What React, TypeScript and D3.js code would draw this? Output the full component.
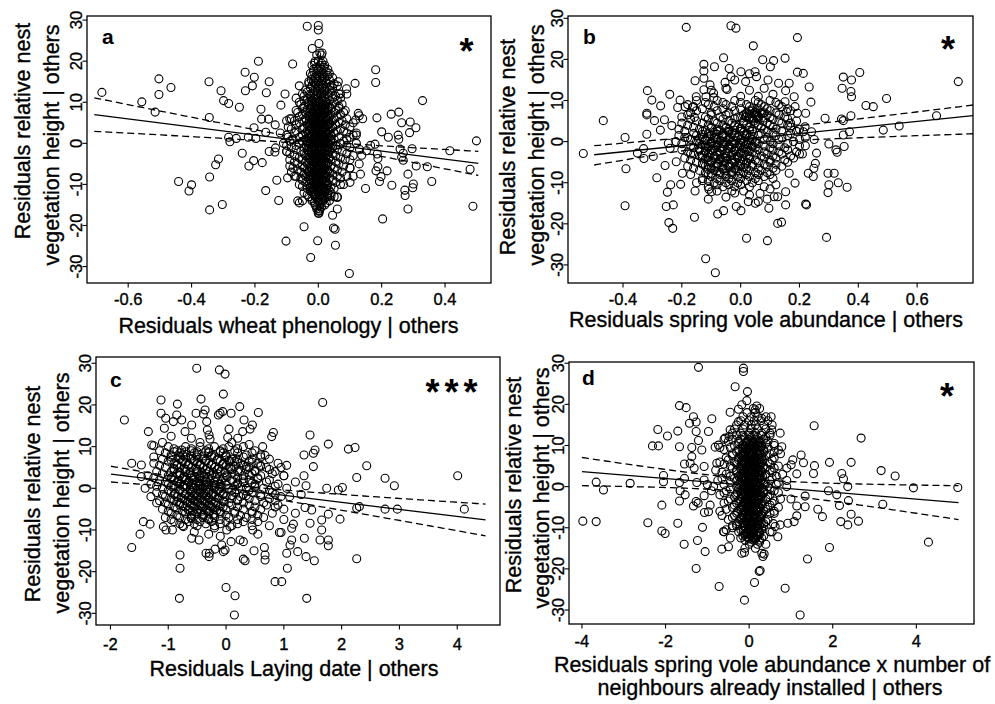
import React from "react";
import * as d3 from "d3";

type Pt = [number, number];
type Row = [number, number[]];

// ---------- Panel a: wheat phenology ----------
const aScatter: Pt[] = [
  [-0.683,12.4],[-0.557,10.1],[-0.515,7.6],[-0.503,15.7],[-0.503,11.9],[-0.465,13.6],[-0.345,15.0],[-0.344,6.3],
  [-0.307,12.8],[-0.299,10.4],[-0.283,9.7],[-0.249,8.8],[-0.231,17.3],[-0.230,12.8],[-0.202,16.1],[-0.208,14.0],
  [-0.189,20.0],[-0.155,15.0],[-0.164,12.3],[-0.181,8.3],[-0.179,5.9],[-0.157,5.9],[-0.136,4.5],[-0.203,3.8],
  [-0.221,1.5],[-0.197,1.2],[-0.166,2.7],[-0.283,1.5],[-0.259,1.2],[-0.279,0.4],[-0.240,-2.4],[-0.155,-2.0],
  [-0.137,-2.1],[-0.135,-1.1],[-0.219,-5.5],[-0.204,-4.2],[-0.177,-4.7],[-0.315,-3.8],[-0.324,-5.2],[-0.343,-8.2],
  [-0.441,-9.3],[-0.400,-10.1],[-0.408,-11.6],[-0.343,-16.2],[-0.303,-14.9],[-0.166,-11.5],[-0.131,-9.0],[-0.125,-13.9],
  [-0.102,-23.8],[-0.081,19.3],[-0.105,12.0],[-0.118,9.3],[-0.097,-8.4],[-0.045,-20.3],[-0.024,-27.8],[-0.002,-23.7],
  [0.054,-24.8],[0.048,-20.6],[0.045,-17.5],[0.053,-20.9],[0.098,-31.7],[-0.035,28.5],[0.0,28.7],[0.0,27.6],
  [-0.019,23.1],[0.002,24.3],[0.063,15.0],[0.089,13.3],[0.116,14.6],[0.181,17.9],[0.181,14.8],[0.126,7.3],
  [0.129,6.7],[0.118,5.7],[0.185,6.2],[0.200,2.8],[0.221,1.5],[0.230,7.1],[0.254,7.6],[0.263,5.0],
  [0.290,5.2],[0.308,3.8],[0.288,2.6],[0.252,2.0],[0.254,1.0],[0.329,10.4],[0.296,-1.3],[0.258,-1.4],
  [0.268,-2.4],[0.263,-3.4],[0.268,-4.1],[0.179,-0.2],[0.186,-2.6],[0.188,-3.7],[0.188,-5.7],[0.182,-6.7],
  [0.152,-1.8],[0.137,-2.9],[0.129,-5.0],[0.133,-7.5],[0.198,-8.1],[0.193,-9.3],[0.217,-6.7],[0.232,-10.2],
  [0.149,-11.0],[0.203,-18.4],[0.283,-7.5],[0.309,-5.5],[0.344,-5.7],[0.358,-9.3],[0.300,-9.9],[0.298,-10.8],
  [0.273,-11.4],[0.274,-12.7],[0.283,-16.0],[0.415,-1.8],[0.499,0.6],[0.479,-6.3],[0.488,-15.3],[0.165,-0.5],
  [-0.06,14],[-0.07,11],[-0.09,6],[-0.1,5.5],[-0.12,2.5],[-0.1,-2],[-0.085,-7],[-0.075,-8],[-0.06,-14.5],
  [-0.05,-14],[0.05,-13],[0.06,-13.2],[0.08,-10],[0.1,-9.5],[0.11,-8],[0.12,2.5],[0.12,2],[0.14,6],[0.11,5],
  [0.09,12],[0.065,12],[0.07,11],[0.1,-4],[0.13,-1.5],[0.1,-6],[0.06,-16],[0.04,-12.8],
];
const aCore: Row[] = [
  [22,[0.005,0.012]],[20,[-0.01,0.0,0.015]],[19,[-0.02,0.005,0.02]],[18,[-0.015,0.0,0.01,0.03]],
  [17,[-0.025,-0.005,0.015,0.035]],[16,[-0.01,0.005,0.02,0.045]],[15,[-0.03,-0.015,0.0,0.01,0.025]],
  [14,[-0.02,0.0,0.015,0.04,0.06]],[13,[-0.04,-0.01,0.005,0.02,0.035]],[12,[-0.05,-0.025,-0.005,0.01,0.03,0.07]],
  [11,[-0.035,-0.015,0.0,0.02,0.045]],[10,[-0.06,-0.03,-0.01,0.005,0.025,0.05]],[9,[-0.045,-0.02,0.0,0.015,0.035,0.065]],
  [8,[-0.07,-0.035,-0.01,0.01,0.03,0.055,0.085]],[7,[-0.05,-0.025,-0.005,0.015,0.04,0.07]],
  [6,[-0.085,-0.04,-0.015,0.005,0.025,0.05,0.09]],[5,[-0.06,-0.03,-0.01,0.01,0.035,0.065]],
  [4,[-0.095,-0.045,-0.02,0.0,0.02,0.045,0.1]],[3,[-0.07,-0.035,-0.01,0.01,0.03,0.06,0.08]],
  [2,[-0.1,-0.05,-0.025,-0.005,0.015,0.04,0.11]],[1,[-0.08,-0.04,-0.015,0.005,0.025,0.05,0.09]],
  [0,[-0.11,-0.06,-0.03,-0.01,0.01,0.03,0.07,0.12]],[-1,[-0.085,-0.045,-0.02,0.0,0.02,0.045,0.1]],
  [-2,[-0.1,-0.055,-0.03,-0.01,0.01,0.035,0.075]],[-3,[-0.075,-0.04,-0.015,0.005,0.025,0.055,0.11]],
  [-4,[-0.09,-0.05,-0.025,-0.005,0.015,0.04,0.085]],[-5,[-0.065,-0.035,-0.01,0.01,0.03,0.065]],
  [-6,[-0.08,-0.045,-0.02,0.0,0.02,0.05,0.1]],[-7,[-0.055,-0.03,-0.01,0.01,0.035,0.075]],
  [-8,[-0.07,-0.04,-0.015,0.005,0.025,0.06,0.09]],[-9,[-0.05,-0.025,-0.005,0.015,0.045]],
  [-10,[-0.06,-0.03,-0.01,0.01,0.03,0.07]],[-11,[-0.035,-0.015,0.005,0.025,0.05]],
  [-12,[-0.045,-0.02,0.0,0.02,0.04]],[-13,[-0.03,-0.01,0.01,0.03,0.06]],[-14,[-0.065,-0.02,0.0,0.015,0.035]],
  [-15,[-0.01,0.005,0.02]],[-16,[-0.005,0.005]],[-17,[0.0,0.002]],
  [21.5,[-0.005,0.01]],[19.5,[-0.012,0.01]],[18.5,[-0.005,0.018]],[17.5,[-0.015,0.005,0.025]],
  [16.5,[-0.02,0.0,0.012,0.03]],[15.5,[-0.022,-0.005,0.015,0.035]],[14.5,[-0.03,-0.01,0.008,0.025,0.05]],
  [13.5,[-0.025,-0.002,0.012,0.028,0.045]],[12.5,[-0.035,-0.015,0.0,0.02,0.04]],
  [11.5,[-0.045,-0.025,-0.008,0.01,0.03,0.055]],[10.5,[-0.045,-0.02,0.0,0.015,0.035,0.06]],
  [9.5,[-0.055,-0.03,-0.01,0.008,0.025,0.045,0.075]],[8.5,[-0.05,-0.022,-0.002,0.02,0.04,0.065]],
  [7.5,[-0.065,-0.04,-0.015,0.005,0.025,0.05,0.08]],[6.5,[-0.06,-0.03,-0.008,0.012,0.035,0.06]],
  [5.5,[-0.075,-0.045,-0.02,0.0,0.02,0.045,0.075]],[4.5,[-0.07,-0.035,-0.012,0.008,0.03,0.055,0.085]],
  [3.5,[-0.085,-0.05,-0.022,-0.002,0.018,0.04,0.07]],[2.5,[-0.075,-0.04,-0.015,0.005,0.025,0.05,0.09]],
  [1.5,[-0.095,-0.06,-0.03,-0.008,0.012,0.035,0.065,0.1]],[0.5,[-0.09,-0.05,-0.02,0.0,0.02,0.04,0.08]],
  [-0.5,[-0.1,-0.07,-0.038,-0.015,0.005,0.025,0.055,0.09]],[-1.5,[-0.07,-0.035,-0.012,0.008,0.03,0.06]],
  [-2.5,[-0.09,-0.045,-0.02,0.0,0.02,0.045,0.09]],[-3.5,[-0.06,-0.03,-0.008,0.012,0.035,0.07]],
  [-4.5,[-0.075,-0.04,-0.015,0.005,0.025,0.055]],[-5.5,[-0.09,-0.05,-0.025,-0.002,0.018,0.04,0.08]],
  [-6.5,[-0.065,-0.035,-0.012,0.008,0.03,0.06]],[-7.5,[-0.045,-0.02,0.0,0.02,0.045]],
  [-8.5,[-0.055,-0.03,-0.008,0.012,0.035,0.07]],[-9.5,[-0.04,-0.015,0.005,0.025,0.055]],
  [-10.5,[-0.05,-0.025,-0.005,0.015,0.04]],[-11.5,[-0.025,-0.005,0.015,0.035]],
  [-12.5,[-0.035,-0.012,0.008,0.03]],[-13.5,[-0.02,0.0,0.02]],[-14.5,[-0.012,0.008,0.025]],
  [-15.5,[-0.005,0.01]],[-16.5,[0.0,0.004]],
];
// darkest column of panel a
const aDense: Row[] = [
  [10.25,[-0.018,0.004,0.022]],[9.75,[-0.01,0.012]],[9.25,[-0.022,0.0,0.02]],[8.75,[-0.012,0.01,0.03]],
  [8.25,[-0.025,-0.004,0.016]],[7.75,[-0.015,0.006,0.026]],[7.25,[-0.02,0.0,0.02]],[6.75,[-0.03,-0.01,0.01,0.03]],
  [6.25,[-0.018,0.004,0.022]],[5.75,[-0.028,-0.008,0.012,0.032]],[5.25,[-0.016,0.004,0.024]],
  [4.75,[-0.025,-0.005,0.015,0.035]],[4.25,[-0.03,-0.012,0.008,0.028]],[3.75,[-0.02,0.0,0.02]],
  [3.25,[-0.028,-0.008,0.012,0.032]],[2.75,[-0.018,0.002,0.022]],[2.25,[-0.03,-0.01,0.01,0.03]],
  [1.75,[-0.02,0.0,0.02,0.04]],[1.25,[-0.032,-0.012,0.008,0.028]],[0.75,[-0.022,-0.002,0.018,0.038]],
  [0.25,[-0.035,-0.015,0.005,0.025]],[-0.25,[-0.025,-0.005,0.015,0.035]],[-0.75,[-0.03,-0.01,0.01,0.03]],
  [-1.25,[-0.02,0.0,0.02,0.04]],[-1.75,[-0.032,-0.012,0.008,0.028]],[-2.25,[-0.022,-0.002,0.018]],
  [-2.75,[-0.03,-0.01,0.01,0.03]],[-3.25,[-0.018,0.002,0.022]],[-3.75,[-0.028,-0.008,0.012,0.032]],
  [-4.25,[-0.02,0.0,0.02]],[-4.75,[-0.03,-0.01,0.01,0.03]],[-5.25,[-0.016,0.004,0.024]],
  [-5.75,[-0.025,-0.005,0.015]],[-6.25,[-0.02,0.0,0.02]],[-6.75,[-0.028,-0.008,0.012,0.03]],
  [-7.25,[-0.016,0.004,0.024]],[-7.75,[-0.025,-0.005,0.015]],[-8.25,[-0.018,0.002,0.022]],
  [-8.75,[-0.026,-0.006,0.014]],[-9.25,[-0.015,0.005,0.025]],[-9.75,[-0.022,-0.002,0.018]],
  [-10.25,[-0.012,0.008,0.026]],[-10.75,[-0.02,0.0,0.018]],[-11.25,[-0.01,0.01]],[-11.75,[-0.016,0.004,0.02]],
  [-12.25,[-0.008,0.012]],[-12.75,[-0.012,0.006]],[-13.25,[-0.004,0.014]],
];

// ---------- Panel b: spring vole abundance ----------
const bScatter: Pt[] = [
  [-0.535,-2.9],[-0.467,5.1],[-0.393,1.0],[-0.390,-6.6],[-0.393,-15.6],[-0.317,12.4],[-0.319,6.9],[-0.319,6.5],
  [-0.319,1.8],[-0.330,-1.7],[-0.329,-4.1],[-0.351,-2.8],[-0.297,-3.6],[-0.302,10.1],[-0.293,5.1],[-0.285,-8.8],
  [-0.273,2.8],[-0.272,8.7],[-0.259,5.3],[-0.257,-5.8],[-0.249,-12.3],[-0.253,-15.8],[-0.241,11.5],[-0.229,-15.4],
  [-0.244,-19.7],[-0.231,-21.1],[-0.238,-10.5],[-0.246,-0.4],[-0.240,-1.6],[-0.234,3.9],[-0.219,-4.9],[-0.206,10.1],
  [-0.214,8.3],[-0.204,-10.4],[-0.198,-7.7],[-0.189,8.5],[-0.185,27.8],[-0.163,8.4],[-0.157,5.9],[-0.155,14.8],
  [-0.151,10.9],[-0.155,-12.0],[-0.157,-18.4],[-0.125,18.8],[-0.125,17.2],[-0.125,15.4],[-0.125,12.6],[-0.118,10.9],
  [-0.104,13.8],[-0.092,11.8],[-0.089,18.2],[-0.091,10.7],[-0.108,-11.6],[-0.099,-12.2],[-0.119,-28.5],[-0.078,-17.6],
  [-0.058,-16.8],[-0.086,-31.9],[-0.058,20.4],[-0.053,14.4],[-0.046,12.7],[-0.039,17.8],[-0.033,15.8],[-0.033,28.2],
  [-0.016,27.6],[0.001,17.0],[0.017,14.6],[0.043,23.3],[0.049,17.0],[0.054,15.8],[0.075,19.9],[0.101,18.2],
  [0.112,19.7],[0.093,15.0],[0.129,14.2],[0.151,20.3],[0.153,12.4],[0.165,14.2],[0.182,10.9],[0.193,25.3],
  [0.193,16.9],[0.213,16.6],[0.233,13.3],[0.239,9.6],[0.287,5.7],[0.300,-0.6],[0.297,-7.7],[0.318,-7.7],
  [0.300,-10.5],[0.297,-12.4],[0.324,-2.0],[0.328,-2.6],[0.332,-10.0],[0.362,-11.1],[0.352,-1.2],[0.349,1.6],
  [0.343,5.5],[0.349,5.1],[0.345,13.0],[0.349,15.7],[0.377,15.0],[0.375,12.2],[0.377,10.9],[0.375,6.3],
  [0.370,2.4],[0.405,16.8],[0.426,8.8],[0.451,8.5],[0.485,2.8],[0.496,10.5],[0.539,3.8],[0.666,6.3],
  [0.740,14.6],[0.020,-23.5],[0.091,-24.1],[0.292,-23.3],[0.126,-19.9],[0.139,-19.6],[0.153,-15.4],[0.153,-12.2],
  [0.096,-16.2],[0.114,-13.4],[0.126,-13.4],[0.001,-16.8],[-0.015,-15.8],[0.060,-14.6],[0.066,-12.6],[0.026,-14.6],
  [0.221,-15.2],[0.224,-15.4],[0.185,-10.1],[0.165,-7.7],[0.230,-7.7],[0.247,-8.5],[0.249,-6.5],[0.254,-5.3],
  [0.258,-2.8],[0.241,2.4],[0.219,3.6],[0.213,2.4],[0.221,6.9],[0.193,6.9],[0.185,8.5],[0.156,7.3],[0.151,9.7],
  [-0.1,12.5],[-0.05,13],[0.0,11],[0.03,12.5],[0.06,11],[0.08,13],[0.11,11.5],[-0.02,15],[0.03,16.5],
  [-0.05,-13.5],[-0.02,-12.5],[0.03,-13],[0.05,-15],[0.09,-14],[-0.13,-9.5],[-0.11,-14],[0.12,-10.5],[0.1,-11.5],
  [-0.17,-3],[-0.18,1],[0.2,-3],[0.22,-1],[0.17,4.5],[0.25,0.5],
  [0.03,7.5],[0.05,6.5],[0.07,7],[0.04,5.5],[0.06,8],[0.02,6],
];
const bCore: Row[] = [
  [10,[-0.15,-0.08,-0.02,0.05,0.1]],[9,[-0.18,-0.11,-0.05,0.02,0.07,0.13]],[8,[-0.13,-0.06,0.0,0.04,0.09,0.16]],
  [7,[-0.17,-0.1,-0.04,0.02,0.05,0.08,0.12]],[6,[-0.2,-0.12,-0.07,-0.01,0.03,0.06,0.1,0.15]],
  [5,[-0.15,-0.09,-0.04,0.01,0.045,0.075,0.13,0.19]],[4,[-0.18,-0.11,-0.06,-0.02,0.02,0.06,0.1,0.16]],
  [3,[-0.21,-0.14,-0.08,-0.04,0.0,0.04,0.08,0.12,0.2]],[2,[-0.16,-0.11,-0.06,-0.02,0.02,0.07,0.11,0.17]],
  [1,[-0.19,-0.13,-0.09,-0.05,-0.01,0.03,0.09,0.14,0.22]],[0,[-0.22,-0.15,-0.1,-0.06,-0.03,0.01,0.05,0.1,0.18]],
  [-1,[-0.17,-0.12,-0.08,-0.04,0.0,0.04,0.08,0.13,0.2]],[-2,[-0.2,-0.14,-0.1,-0.06,-0.02,0.02,0.06,0.11,0.16]],
  [-3,[-0.16,-0.11,-0.07,-0.03,0.01,0.05,0.09,0.14,0.21]],[-4,[-0.19,-0.13,-0.09,-0.05,-0.01,0.03,0.08,0.12,0.18]],
  [-5,[-0.15,-0.1,-0.06,-0.02,0.02,0.06,0.1,0.16]],[-6,[-0.18,-0.12,-0.08,-0.04,0.0,0.04,0.09,0.14]],
  [-7,[-0.14,-0.09,-0.05,-0.01,0.03,0.07,0.12]],[-8,[-0.17,-0.11,-0.07,-0.03,0.02,0.06,0.1]],
  [-9,[-0.13,-0.08,-0.04,0.0,0.05,0.11]],[-10,[-0.15,-0.09,-0.05,-0.01,0.04]],
  [-11,[-0.11,-0.06,-0.02,0.03,0.08]],[-12,[-0.08,-0.03,0.01]],
  [9.5,[-0.12,-0.06,0.0,0.06,0.12]],[8.5,[-0.16,-0.09,-0.03,0.03,0.08,0.14]],[7.5,[-0.15,-0.08,-0.02,0.04,0.1,0.17]],
  [6.5,[-0.18,-0.1,-0.05,0.01,0.05,0.09,0.13]],[5.5,[-0.17,-0.11,-0.06,-0.02,0.03,0.06,0.11,0.16]],
  [4.5,[-0.2,-0.13,-0.08,-0.03,0.01,0.05,0.09,0.14]],[3.5,[-0.16,-0.1,-0.05,-0.01,0.03,0.07,0.11,0.17]],
  [2.5,[-0.19,-0.13,-0.08,-0.04,0.0,0.04,0.09,0.14,0.19]],[1.5,[-0.21,-0.15,-0.1,-0.06,-0.02,0.02,0.06,0.12,0.16]],
  [0.5,[-0.17,-0.12,-0.08,-0.04,0.0,0.04,0.08,0.13,0.2]],[-0.5,[-0.2,-0.14,-0.1,-0.06,-0.02,0.02,0.06,0.11,0.16]],
  [-1.5,[-0.16,-0.11,-0.07,-0.03,0.01,0.05,0.1,0.15]],[-2.5,[-0.18,-0.12,-0.08,-0.04,0.0,0.04,0.08,0.13,0.19]],
  [-3.5,[-0.14,-0.09,-0.05,-0.01,0.03,0.07,0.11,0.17]],[-4.5,[-0.17,-0.11,-0.07,-0.03,0.01,0.05,0.1,0.15]],
  [-5.5,[-0.13,-0.08,-0.04,0.0,0.04,0.08,0.12]],[-6.5,[-0.16,-0.1,-0.06,-0.02,0.02,0.06,0.11]],
  [-7.5,[-0.12,-0.07,-0.03,0.01,0.05,0.09]],[-8.5,[-0.1,-0.05,-0.01,0.03,0.08]],
  [-9.5,[-0.11,-0.07,-0.03,0.02,0.06]],[-10.5,[-0.08,-0.04,0.0]],
];
const bDense: Row[] = [
  [3.25,[-0.1,-0.05,0.0]],[2.75,[-0.12,-0.07,-0.02,0.03]],[2.25,[-0.09,-0.04,0.01]],[1.75,[-0.13,-0.08,-0.03,0.02]],
  [1.25,[-0.11,-0.06,-0.01,0.04]],[0.75,[-0.14,-0.09,-0.04,0.01]],[0.25,[-0.12,-0.07,-0.02,0.03]],
  [-0.25,[-0.1,-0.05,0.0,0.05]],[-0.75,[-0.13,-0.08,-0.03,0.02]],[-1.25,[-0.11,-0.06,-0.01,0.04]],
  [-1.75,[-0.14,-0.09,-0.04,0.01]],[-2.25,[-0.12,-0.07,-0.02,0.03]],[-2.75,[-0.1,-0.05,0.0]],
  [-3.25,[-0.13,-0.08,-0.03,0.02]],[-3.75,[-0.11,-0.06,-0.01]],[-4.25,[-0.12,-0.07,-0.02,0.03]],
  [-4.75,[-0.1,-0.05,0.0]],[-5.25,[-0.13,-0.08,-0.03,0.02]],[-5.75,[-0.11,-0.06,-0.01]],
  [-6.25,[-0.09,-0.04,0.01]],[-6.75,[-0.11,-0.06,-0.02]],[-7.25,[-0.08,-0.03]],[-7.75,[-0.1,-0.05,0.0]],
  [6.25,[0.02,0.06]],[5.75,[0.0,0.04,0.08]],[6.75,[0.03,0.07]],[7.25,[0.05]],
];

// ---------- Panel c: laying date ----------
const cScatter: Pt[] = [
  [-1.759,16.4],[-1.632,6.0],[-1.632,-14.2],[-1.488,-11.0],[-1.430,-8.0],[-1.315,-8.6],[-1.344,13.6],[-1.465,5.6],
  [-1.465,2.8],[-1.286,10.4],[-1.25,10.2],[-1.125,21.2],[-1.125,18.0],[-1.044,16.8],[-1.067,14.4],[-0.911,16.0],
  [-0.842,20.2],[-0.853,17.6],[-0.767,16.4],[-0.709,13.6],[-0.767,9.2],[-0.594,15.2],[-0.507,28.8],[-0.433,21.4],
  [-0.519,18.0],[-0.392,17.8],[-0.363,18.8],[-0.334,16.0],[-0.323,14.0],[-0.294,12.8],[-0.277,11.8],[-0.115,28.4],
  [-0.017,27.4],[-0.046,22.6],[-0.133,17.6],[-0.104,18.0],[-0.058,18.4],[0.087,18.0],[0.052,14.2],[0.029,12.2],
  [0.237,19.6],[0.311,16.4],[0.288,13.6],[0.456,15.2],[0.415,14.2],[0.559,18.2],[0.202,12.0],[0.634,10.0],
  [0.675,7.9],[0.819,13.4],[0.790,12.4],[1.453,12.8],[1.672,20.6],[1.770,10.6],[2.117,9.4],[2.232,9.8],
  [2.434,5.4],[2.261,2.6],[2.751,2.4],[2.912,0.6],[1.943,-0.4],[2.013,0.2],[1.742,0.0],[1.972,-7.4],
  [2.261,-4.8],[2.307,-4.4],[2.751,-5.0],[2.964,-5.0],[4.008,3.0],[4.123,-5.0],[2.261,-16.9],[1.770,-6.2],
  [1.655,-7.6],[1.655,-10.0],[1.626,-12.4],[1.770,-12.4],[1.770,-13.8],[1.528,-17.4],[1.384,-16.4],[1.355,-12.0],
  [1.396,-26.4],[1.453,-8.4],[1.482,-5.2],[1.367,-4.6],[1.511,8.4],[1.540,9.2],[1.511,5.2],[1.349,8.0],
  [1.349,3.0],[1.384,0.6],[1.240,-15.2],[1.165,-8.6],[1.136,-9.6],[1.061,-19.2],[1.050,-15.6],[1.107,-13.6],
  [1.136,-12.4],[0.952,-10.6],[0.923,-10.6],[0.963,-22.4],[0.848,-22.4],[0.663,-14.2],[0.675,-17.2],[0.675,-16.0],
  [0.484,-15.0],[0.461,-10.0],[0.300,-17.0],[0.329,-17.4],[0.156,-25.8],[0.144,-30.4],[0.0,-23.8],[-0.017,-14.8],
  [-0.046,-15.2],[-0.190,-14.6],[-0.288,-15.6],[-0.346,-15.6],[-0.294,-16.4],[-0.796,-16.0],[-0.796,-19.2],[-0.807,-26.4],
  [-0.467,-12.4],[-0.594,-12.0],[-0.738,-9.2],[-1.084,-9.2],[-1.038,-10.0],[-0.928,-10.0],[0.300,-12.8],[0.242,-12.4],
  [0.087,-12.8],[-0.075,-13.6],[0.012,-10.0],[0.069,-9.2],
  [-1.3,-2],[-1.4,0],[-1.2,-3.5],[-1.25,7.5],[-1.1,11],[-0.95,12.5],[-0.6,12],[-0.45,11],[0.1,11],[0.4,10.5],
  [0.9,6],[1.0,3],[1.2,1.5],[1.1,-2],[1.3,-1.5],[0.9,-4],[1.2,-6],[1.0,-7.5],[0.75,-9],[0.55,-11],[-0.3,-11],
  [-0.1,-11.5],[-0.55,-10.5],[0.2,7],[0.05,6.5],[-0.2,-9.5],[1.05,5.5],[0.85,-1.5],
];
const cCore: Row[] = [
  [10,[-1.0,-0.7,-0.45,-0.2,0.05,0.3]],[9,[-1.15,-0.85,-0.6,-0.35,-0.1,0.15,0.5]],
  [8,[-0.95,-0.75,-0.5,-0.25,0.0,0.35,0.6]],[7,[-1.1,-0.8,-0.6,-0.4,-0.15,0.1,0.45,0.75]],
  [6,[-1.25,-0.9,-0.7,-0.5,-0.3,-0.05,0.25,0.55]],[5,[-1.05,-0.8,-0.6,-0.4,-0.2,0.05,0.4,0.7,0.95]],
  [4,[-1.2,-0.95,-0.7,-0.5,-0.3,-0.1,0.2,0.5,0.85]],[3,[-1.35,-1.0,-0.8,-0.6,-0.45,-0.25,0.0,0.3,0.6,1.0]],
  [2,[-1.15,-0.9,-0.7,-0.55,-0.35,-0.15,0.1,0.4,0.75]],[1,[-1.3,-1.0,-0.8,-0.6,-0.45,-0.3,-0.1,0.2,0.5,0.9]],
  [0,[-1.1,-0.9,-0.7,-0.55,-0.4,-0.2,0.05,0.35,0.65,1.05]],[-1,[-1.2,-0.95,-0.75,-0.6,-0.45,-0.3,-0.1,0.15,0.45,0.8]],
  [-2,[-1.05,-0.85,-0.65,-0.5,-0.35,-0.2,0.0,0.25,0.6,0.95]],[-3,[-1.15,-0.9,-0.7,-0.55,-0.4,-0.25,-0.05,0.2,0.5,0.85]],
  [-4,[-1.0,-0.8,-0.6,-0.45,-0.3,-0.15,0.1,0.4,0.7]],[-5,[-1.1,-0.85,-0.65,-0.5,-0.35,-0.2,0.0,0.3,0.6,1.0]],
  [-6,[-0.95,-0.7,-0.5,-0.3,-0.1,0.15,0.45,0.8]],[-7,[-1.05,-0.8,-0.6,-0.4,-0.2,0.05,0.35,0.65]],
  [-8,[-0.9,-0.65,-0.45,-0.25,0.0,0.3,0.55]],[-9,[-0.75,-0.5,-0.2,0.1,0.45]],
  [9.5,[-0.9,-0.6,-0.3,-0.05,0.2]],[8.5,[-1.05,-0.8,-0.55,-0.3,-0.05,0.2,0.45]],
  [7.5,[-0.95,-0.7,-0.5,-0.25,0.0,0.3,0.6]],[6.5,[-1.0,-0.75,-0.55,-0.35,-0.1,0.15,0.4]],
  [5.5,[-1.15,-0.85,-0.65,-0.45,-0.25,0.0,0.3,0.6]],[4.5,[-0.9,-0.7,-0.5,-0.35,-0.15,0.1,0.35,0.75]],
  [3.5,[-1.1,-0.85,-0.65,-0.5,-0.35,-0.15,0.1,0.45,0.8]],[2.5,[-1.25,-0.95,-0.75,-0.6,-0.45,-0.3,-0.05,0.2,0.55]],
  [1.5,[-1.05,-0.85,-0.65,-0.5,-0.35,-0.2,0.0,0.3,0.7]],[0.5,[-1.2,-0.95,-0.75,-0.6,-0.45,-0.3,-0.1,0.15,0.5,0.85]],
  [-0.5,[-1.0,-0.8,-0.62,-0.48,-0.35,-0.15,0.1,0.4,0.75]],[-1.5,[-1.1,-0.9,-0.7,-0.55,-0.4,-0.25,-0.05,0.3,0.6]],
  [-2.5,[-0.95,-0.75,-0.6,-0.45,-0.3,-0.12,0.1,0.4,0.75]],[-3.5,[-1.05,-0.8,-0.62,-0.48,-0.33,-0.18,0.05,0.3,0.65]],
  [-4.5,[-0.9,-0.7,-0.55,-0.4,-0.25,-0.05,0.2,0.5,0.85]],[-5.5,[-1.0,-0.75,-0.58,-0.42,-0.28,-0.1,0.15,0.45]],
  [-6.5,[-0.85,-0.6,-0.4,-0.2,0.0,0.25,0.55]],[-7.5,[-0.95,-0.7,-0.5,-0.3,-0.1,0.2,0.45]],
  [-8.5,[-0.8,-0.55,-0.35,-0.1,0.2]],
];
const cDense: Row[] = [
  [8.75,[-0.9,-0.7,-0.5,-0.3,-0.1]],[7.75,[-0.8,-0.6,-0.4,-0.2,0.0]],[6.75,[-0.95,-0.75,-0.55,-0.35,-0.15,0.05]],
  [5.75,[-0.85,-0.65,-0.45,-0.25,-0.05]],[4.75,[-0.9,-0.72,-0.52,-0.32,-0.12,0.08]],[3.75,[-0.8,-0.62,-0.42,-0.22,-0.02]],
  [2.75,[-0.92,-0.72,-0.55,-0.38,-0.18,0.02]],[1.75,[-0.82,-0.64,-0.46,-0.28,-0.08]],
  [0.75,[-0.9,-0.7,-0.52,-0.36,-0.2,0.0]],[-0.25,[-0.8,-0.62,-0.45,-0.3,-0.12]],
  [-1.25,[-0.88,-0.7,-0.53,-0.38,-0.22,-0.05]],[-2.25,[-0.78,-0.6,-0.44,-0.3,-0.14]],
  [-3.25,[-0.85,-0.66,-0.5,-0.36,-0.2,-0.04]],[-4.25,[-0.74,-0.56,-0.42,-0.27,-0.1]],
  [-5.25,[-0.65,-0.48,-0.32,-0.16]],[-6.25,[-0.55,-0.38,-0.22]],[-7.25,[-0.6,-0.3]],
  [6.25,[0.2,0.45]],[5.25,[0.15,0.35,0.6]],[4.25,[0.25,0.5]],[3.25,[0.15,0.4]],[2.25,[0.3,0.55]],
  [1.25,[0.2,0.45]],[0.25,[0.25,0.5]],[-1.75,[0.1,0.35]],[-2.75,[0.2]],
];

// ---------- Panel d: vole abundance x neighbours ----------
const dScatter: Pt[] = [
  [-3.979,-8.4],[-3.660,1.1],[-3.660,-8.5],[-3.485,-0.8],[-2.847,0.8],[-2.424,-8.8],[-2.313,9.9],[-2.169,9.9],
  [-2.185,13.9],[-1.954,12.3],[-2.089,-4.5],[-2.049,2.7],[-2.049,1.2],[-2.089,-10.8],[-2.010,-11.4],[-1.707,-8.9],
  [-1.667,19.7],[-1.507,19.2],[-1.707,13.5],[-1.667,9.7],[-1.427,15.4],[-1.332,17.0],[-1.268,15.7],[-1.268,13.4],
  [-1.212,11.2],[-1.132,8.9],[-1.372,9.5],[-1.372,7.3],[-1.411,5.7],[-1.547,5.5],[-1.316,4.5],[-1.547,2.0],
  [-1.667,1.0],[-1.651,-1.0],[-1.667,-3.5],[-1.531,-2.0],[-1.332,-4.7],[-1.268,-3.6],[-1.22,-4.0],[-1.252,1.0],
  [-1.077,4.9],[-1.077,1.6],[-1.077,-2.2],[-0.933,-4.5],[-1.069,-6.3],[-0.973,-6.1],[-0.893,16.5],[-0.973,13.4],
  [-1.116,-9.9],[-1.555,-14.0],[-1.236,-13.1],[-1.053,-15.8],[-1.268,-19.9],[-1.212,29.0],[-0.718,-24.3],[-0.734,10.1],
  [-0.813,9.6],[-0.774,5.7],[-0.654,-15.2],[-0.614,-10.9],[-0.494,-14.6],[-0.455,18.1],[-0.335,24.3],[-0.255,18.8],
  [-0.136,28.8],[-0.136,28.0],[-0.040,23.1],[-0.056,20.9],[-0.112,-16.0],[-0.175,-16.2],[-0.112,-27.6],[0.128,-23.3],
  [0.263,-20.4],[0.24,-20.6],[0.303,-16.2],[0.359,-16.4],[0.33,-17.0],[0.861,-24.7],[1.220,-31.2],[1.396,-17.6],
  [1.922,-14.8],[4.290,-13.5],[1.555,14.8],[2.679,11.8],[2.440,5.9],[1.922,5.9],[1.563,5.1],[1.539,3.2],
  [2.217,3.2],[2.257,1.9],[2.360,0.0],[1.898,-1.0],[2.097,-2.0],[2.376,-3.4],[2.161,-4.6],[2.440,-6.7],
  [2.193,-8.5],[2.360,-9.3],[2.616,-8.4],[3.198,-4.3],[3.158,3.9],[3.493,2.6],[3.931,-0.3],[4.992,-0.2],
  [1.643,-5.5],[1.754,-7.3],[1.340,-2.3],[1.340,-4.9],[1.140,-4.7],[1.140,-7.1],[1.077,-8.5],[0.925,-8.9],
  [0.742,-9.3],[0.622,-9.7],[0.58,-9.0],[0.686,-12.2],[1.045,6.5],[1.005,5.3],[1.244,7.7],[1.300,5.8],
  [1.140,3.1],[0.901,4.5],[0.781,9.7],[0.702,8.9],[0.742,13.0],[0.526,17.0],[0.542,13.8],[0.303,16.6],
  [0.183,19.6],[0.144,18.7],[-0.175,19.9],[-0.255,15.8],[-0.455,13.8],[-0.478,12.2],[-0.574,11.8],
  [-0.6,11.5],[-0.7,9.5],[-0.55,-10.5],[-0.6,-11],[-0.45,-12.5],[-0.9,-1],[-1.0,0.5],[1.0,-3],[0.9,1.5],
  [0.6,-6.5],[0.7,-5],[-0.65,-7],[0.6,10.5],[-0.4,-9.5],[0.55,-11],
];
const dCore: Row[] = [
  [19,[0.1,0.25]],[17,[-0.15,0.05,0.2,0.4]],[15,[-0.3,-0.1,0.05,0.15,0.35,0.55]],
  [13,[-0.4,-0.2,0.0,0.15,0.3,0.5]],[12,[-0.1,0.05,0.2,0.4]],[11,[-0.5,-0.25,-0.05,0.1,0.25,0.45]],
  [10,[-0.35,-0.15,0.0,0.15,0.3,0.6]],[9,[-0.6,-0.25,-0.08,0.05,0.2,0.35]],
  [8,[-0.4,-0.15,0.0,0.1,0.25,0.5,0.75]],[7,[-0.55,-0.25,-0.1,0.05,0.18,0.3,0.6]],
  [6,[-0.7,-0.35,-0.15,0.0,0.12,0.25,0.45]],[5,[-0.45,-0.2,-0.05,0.08,0.2,0.35,0.7]],
  [4,[-0.8,-0.3,-0.12,0.02,0.15,0.28,0.5]],[3,[-0.55,-0.2,-0.05,0.1,0.22,0.4,0.8]],
  [2,[-0.65,-0.35,-0.15,0.0,0.12,0.25,0.55]],[1,[-0.45,-0.22,-0.08,0.05,0.18,0.35,0.7]],
  [0,[-0.85,-0.3,-0.12,0.0,0.12,0.25,0.45,0.9]],[-1,[-0.55,-0.2,-0.05,0.08,0.2,0.35,0.6]],
  [-2,[-0.7,-0.32,-0.15,0.0,0.15,0.28,0.5]],[-3,[-0.45,-0.22,-0.08,0.05,0.2,0.4,0.75]],
  [-4,[-0.6,-0.3,-0.12,0.02,0.15,0.3,0.55]],[-5,[-0.4,-0.18,-0.05,0.1,0.25,0.45]],
  [-6,[-0.7,-0.28,-0.1,0.05,0.2,0.35,0.6]],[-7,[-0.35,-0.15,0.0,0.12,0.3]],
  [-8,[-0.5,-0.22,-0.05,0.1,0.25,0.45]],[-9,[-0.3,-0.1,0.05,0.2,0.35]],
  [-10,[-0.4,-0.15,0.0,0.15,0.3]],[-11,[-0.25,-0.05,0.1,0.25,0.5]],[-12,[-0.15,0.05,0.2,0.35]],
  [-13,[-0.1,0.1,0.25]],[-14,[0.0,0.2,0.4]],[-15,[-0.1,0.15]],
  [18,[-0.05,0.15]],[16,[-0.2,0.0,0.12,0.28,0.45]],[14,[-0.35,-0.15,0.05,0.2,0.4]],
  [12.5,[-0.3,-0.15,0.0,0.12,0.28,0.5]],[11.5,[-0.4,-0.2,-0.02,0.15,0.35]],[10.5,[-0.25,-0.08,0.08,0.22,0.4]],
  [9.5,[-0.45,-0.15,0.0,0.12,0.28,0.45]],[8.5,[-0.3,-0.1,0.05,0.18,0.35,0.6]],[7.5,[-0.4,-0.18,-0.03,0.1,0.22,0.4]],
  [6.5,[-0.5,-0.25,-0.08,0.06,0.18,0.32,0.55]],[5.5,[-0.6,-0.3,-0.12,0.02,0.14,0.27,0.5]],
  [4.5,[-0.4,-0.2,-0.06,0.08,0.2,0.38,0.6]],[3.5,[-0.65,-0.3,-0.12,0.03,0.15,0.3,0.55]],
  [2.5,[-0.45,-0.25,-0.08,0.06,0.18,0.32,0.65]],[1.5,[-0.75,-0.3,-0.12,0.02,0.15,0.28,0.5]],
  [0.5,[-0.6,-0.25,-0.05,0.08,0.2,0.38,0.65]],[-0.5,[-0.45,-0.25,-0.1,0.04,0.16,0.3,0.5]],
  [-1.5,[-0.6,-0.28,-0.1,0.05,0.2,0.35,0.7]],[-2.5,[-0.35,-0.18,-0.03,0.1,0.24,0.45]],
  [-3.5,[-0.5,-0.25,-0.1,0.05,0.18,0.33,0.6]],[-4.5,[-0.35,-0.15,0.0,0.12,0.28,0.5]],
  [-5.5,[-0.55,-0.22,-0.06,0.08,0.22,0.4]],[-6.5,[-0.3,-0.12,0.02,0.15,0.3,0.5]],
  [-7.5,[-0.4,-0.18,-0.02,0.12,0.27]],[-8.5,[-0.25,-0.08,0.07,0.22,0.4]],[-9.5,[-0.3,-0.1,0.05,0.2,0.35]],
  [-10.5,[-0.2,-0.02,0.12,0.3]],[-11.5,[-0.1,0.08,0.25]],[-12.5,[-0.2,0.0,0.15,0.3]],[-13.5,[0.05,0.25]],
];
const dDense: Row[] = [
  [10.75,[-0.06,0.1,0.24]],[10.25,[-0.14,0.02,0.17]],[9.75,[-0.09,0.07,0.22,0.3]],[9.25,[-0.17,-0.01,0.14]],
  [8.75,[-0.05,0.1,0.25]],[8.25,[-0.13,0.03,0.18]],[7.75,[-0.19,-0.08,0.07,0.21,0.29]],[7.25,[-0.15,0.0,0.14]],
  [6.75,[-0.04,0.11,0.26]],[6.25,[-0.18,-0.11,0.04,0.18]],[5.75,[-0.07,0.08,0.22,0.3]],[5.25,[-0.16,-0.01,0.13]],
  [4.75,[-0.05,0.1,0.25]],[4.25,[-0.2,-0.12,0.03,0.17]],[3.75,[-0.08,0.07,0.21,0.29]],[3.25,[-0.15,0.0,0.14]],
  [2.75,[-0.04,0.11,0.25]],[2.25,[-0.19,-0.12,0.03,0.18]],[1.75,[-0.07,0.08,0.22,0.3]],[1.25,[-0.16,-0.01,0.13]],
  [0.75,[-0.05,0.1,0.24]],[0.25,[-0.2,-0.12,0.02,0.17]],[-0.25,[-0.08,0.07,0.21,0.3]],[-0.75,[-0.15,0.0,0.14]],
  [-1.25,[-0.04,0.1,0.25]],[-1.75,[-0.19,-0.12,0.03,0.17]],[-2.25,[-0.07,0.07,0.22,0.29]],[-2.75,[-0.16,0.0,0.13]],
  [-3.25,[-0.05,0.1,0.24]],[-3.75,[-0.2,-0.12,0.02,0.18]],[-4.25,[-0.08,0.06,0.21,0.3]],[-4.75,[-0.15,-0.01,0.14]],
  [-5.25,[-0.04,0.1,0.25]],[-5.75,[-0.18,-0.12,0.03,0.17]],[-6.25,[-0.07,0.07,0.22]],[-6.75,[-0.16,0.0,0.13,0.28]],
  [-7.25,[-0.05,0.1,0.24]],[-7.75,[-0.2,-0.12,0.02,0.18]],[-8.25,[-0.08,0.06,0.21]],[-8.75,[-0.15,-0.01,0.14,0.29]],
  [-9.25,[-0.04,0.1,0.25]],[-9.75,[-0.12,0.03,0.17]],[-10.25,[-0.07,0.07,0.22]],[-10.75,[-0.14,0.0,0.13]],
  [-11.25,[-0.05,0.1,0.24]],[-11.75,[-0.1,0.04,0.18]],[-12.25,[-0.06,0.1]],[-12.75,[0.0,0.15]],
];

// ---------- ticks and labels ----------
const yTicks = [-30, -20, -10, 0, 10, 20, 30];
const aXTicks = [-0.6, -0.4, -0.2, 0.0, 0.2, 0.4];
const bXTicks = [-0.4, -0.2, 0.0, 0.2, 0.4, 0.6];
const cXTicks = [-2, -1, 0, 1, 2, 3, 4];
const dXTicks = [-4, -2, 0, 2, 4];
const yTitleLines = ["Residuals relative nest", "vegetation height | others"];
const xTitles = [
  ["Residuals wheat phenology | others"],
  ["Residuals spring vole abundance | others"],
  ["Residuals Laying date | others"],
  ["Residuals spring vole abundance x number of", "neighbours already installed | others"],
];
const letters = ["a", "b", "c", "d"];
const stars = ["*", "*", "***", "*"];

// fitted lines: [xStart, xEnd, intercept, slope]
const fits: [number, number, number, number][] = [
  [-0.707, 0.505, 0.07, -9.8],
  [-0.498, 0.79, 0.475, 7.38],
  [-1.99, 4.49, 0.02, -1.697],
  [-4.0, 5.01, 0.3, -0.838],
];
// confidence band half-widths: [a, b, xm] upper, lower
const bands: [[number, number, number], [number, number, number]][] = [
  [[0.6, 5.7, 0], [0.6, 5.7, 0]],
  [[1.89, 2.26, 0], [1.0, 5.1, -0.05]],
  [[0.96, 0.82, 0], [0.96, 0.82, 0]],
  [[1.58, 0.76, 0], [1.58, 0.76, 0]],
];

const FONT = '"Liberation Sans", Arial, Helvetica, sans-serif';

type Layout = {
  l: number; r: number; t: number; b: number;
  xd: [number, number]; yd: [number, number];
  xTickDy: number; xTitleY: number[]; xTitleX: number[];
  yTitleX: number[]; yTitleY: number[];
  letterXY: [number, number]; starXY: [number, number];
};

const layouts: Layout[] = [
  { l: 87, r: 491, t: 16, b: 283, xd: [-0.730, 0.545], yd: [-34.0, 31.0], xTickDy: 22,
    xTitleY: [333], xTitleX: [288.5], yTitleX: [30, 58.5], yTitleY: [131, 145],
    letterXY: [102, 43.5], starXY: [466.5, 63.5] },
  { l: 568, r: 973, t: 16, b: 283, xd: [-0.587, 0.790], yd: [-34.4, 30.56], xTickDy: 22,
    xTitleY: [327], xTitleX: [766], yTitleX: [515, 543.5], yTitleY: [147, 145],
    letterXY: [583, 43.5], starXY: [948, 61.5] },
  { l: 96, r: 500, t: 357, b: 625, xd: [-2.25, 4.74], yd: [-32.8, 31.5], xTickDy: 25,
    xTitleY: [675.5], xTitleX: [294], yTitleX: [40, 68.5], yTitleY: [494, 493],
    letterXY: [110, 386.5], starXY: [454, 405] },
  { l: 569, r: 974, t: 362, b: 624, xd: [-4.31, 5.38], yd: [-33.4, 30.3], xTickDy: 23,
    xTitleY: [672, 695], xTitleX: [772, 770], yTitleX: [521, 548.5], yTitleY: [485, 488],
    letterXY: [582, 385], starXY: [947, 409] },
];

const panelData = [
  { scatter: aScatter, rows: [aCore, aDense], xTicks: aXTicks, dec: 1 },
  { scatter: bScatter, rows: [bCore, bDense], xTicks: bXTicks, dec: 1 },
  { scatter: cScatter, rows: [cCore, cDense], xTicks: cXTicks, dec: 0 },
  { scatter: dScatter, rows: [dCore, dDense], xTicks: dXTicks, dec: 0 },
];

const textStroke = { stroke: "#000", strokeWidth: 0.35 };

function Panel({ i }: { i: number }) {
  const L = layouts[i];
  const D = panelData[i];
  const x = d3.scaleLinear().domain(L.xd).range([L.l, L.r]);
  const y = d3.scaleLinear().domain(L.yd).range([L.b, L.t]);
  const pts: Pt[] = [
    ...D.scatter,
    ...D.rows.flatMap((rows) => rows.flatMap(([yy, xs]) => xs.map((xx) => [xx, yy] as Pt))),
  ];
  const [x0, x1, b0, b1] = fits[i];
  const [up, lo] = bands[i];
  const grid = d3.range(0, 81).map((k) => x0 + ((x1 - x0) * k) / 80);
  const f = (v: number) => b0 + b1 * v;
  const hw = (p: [number, number, number], v: number) => Math.sqrt(p[0] * p[0] + p[1] * p[1] * (v - p[2]) * (v - p[2]));
  const line = d3.line<Pt>().x((d) => x(d[0])).y((d) => y(d[1]));
  const fitPath = line([[x0, f(x0)], [x1, f(x1)]]) || "";
  const upPath = line(grid.map((v) => [v, f(v) + hw(up, v)] as Pt)) || "";
  const loPath = line(grid.map((v) => [v, f(v) - hw(lo, v)] as Pt)) || "";
  const fmt = (v: number) => (D.dec ? v.toFixed(1) : String(v));
  return (
    <g>
      {pts.map((p, k) => (
        <circle key={k} cx={x(p[0])} cy={y(p[1])} r={4.0} fill="none" stroke="#000" strokeWidth={1.1} />
      ))}
      <path d={fitPath} stroke="#000" strokeWidth={1.3} fill="none" />
      <path d={upPath} stroke="#000" strokeWidth={1.3} fill="none" strokeDasharray="7,4" />
      <path d={loPath} stroke="#000" strokeWidth={1.3} fill="none" strokeDasharray="7,4" />
      <rect x={L.l} y={L.t} width={L.r - L.l} height={L.b - L.t} fill="none" stroke="#000" strokeWidth={1.3} />
      {D.xTicks.map((v) => (
        <g key={"x" + v}>
          <line x1={x(v)} x2={x(v)} y1={L.b} y2={L.b + 4.5} stroke="#000" strokeWidth={1.1} />
          <text x={x(v)} y={L.b + L.xTickDy} textAnchor="middle" fontSize={16.5} fontFamily={FONT} {...textStroke}>{fmt(v)}</text>
        </g>
      ))}
      {yTicks.map((v) => (
        <g key={"y" + v}>
          <line x1={L.l - 4.5} x2={L.l} y1={y(v)} y2={y(v)} stroke="#000" strokeWidth={1.1} />
          <text transform={`translate(${L.l - 5},${y(v)}) rotate(-90)`} textAnchor="middle" fontSize={16.5} fontFamily={FONT} {...textStroke}>{v}</text>
        </g>
      ))}
      {xTitles[i].map((s, k) => (
        <text key={"xt" + k} x={L.xTitleX[k]} y={L.xTitleY[k]} textAnchor="middle" fontSize={21.5} fontFamily={FONT} {...textStroke}>{s}</text>
      ))}
      {yTitleLines.map((s, k) => (
        <text key={"yt" + k} transform={`translate(${L.yTitleX[k]},${L.yTitleY[k]}) rotate(-90)`} textAnchor="middle" fontSize={21.5} fontFamily={FONT} {...textStroke}>{s}</text>
      ))}
      <text x={L.letterXY[0]} y={L.letterXY[1]} fontSize={21} fontWeight="bold" fontFamily={FONT}>{letters[i]}</text>
      <text x={L.starXY[0]} y={L.starXY[1]} textAnchor="middle" fontSize={36} fontWeight="bold" fontFamily={FONT} letterSpacing={stars[i].length > 1 ? 5 : 0}>{stars[i]}</text>
    </g>
  );
}

export default function App() {
  return (
    <svg width={995} height={704} style={{ position: "absolute", left: 0, top: 0, background: "#fff" }}>
      <rect x={0} y={0} width={995} height={704} fill="#fff" />
      {[0, 1, 2, 3].map((i) => (
        <Panel key={i} i={i} />
      ))}
    </svg>
  );
}
